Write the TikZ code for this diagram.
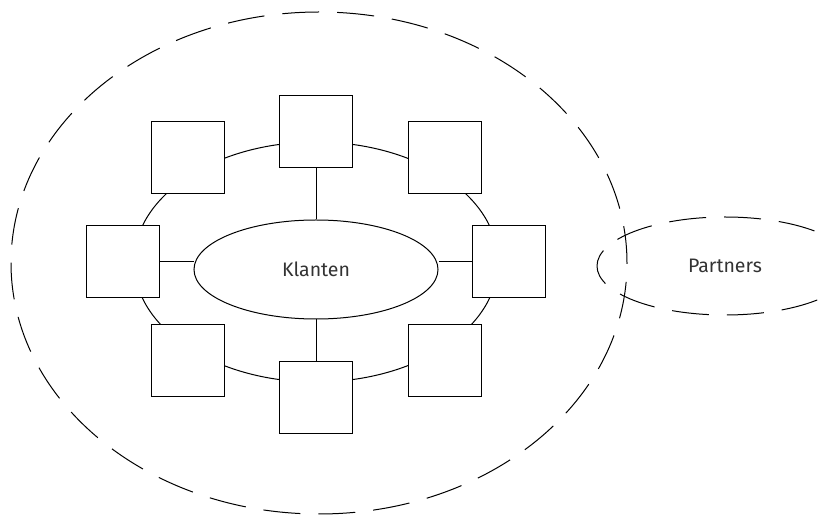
\documentclass[tikz,border=0pt]{standalone}
\usepackage{fontspec}
\setmainfont{Fira Sans}
\usetikzlibrary{shapes.geometric}
\tikzset{
  card/.style={draw, fill=white, line width=1pt, minimum width=73pt, minimum height=72pt, inner sep=0pt},
  core/.style={draw, fill=white, ellipse, line width=1pt, minimum width=244pt, minimum height=99pt, inner sep=0pt, text=black!80, font=\fontsize{19.5}{23}\selectfont},
  zone/.style={draw, ellipse, dash pattern=on 37pt off 18pt, line width=1pt, inner sep=0pt, text=black!80, font=\fontsize{19.5}{23}\selectfont},
  link/.style={line width=1pt}
}
\begin{document}
\begin{tikzpicture}[x=1pt,y=-1pt]
\useasboundingbox (0,0) rectangle (828,518);
\clip (0,0) rectangle (828,518);
% outer dashed zone
\node[zone, minimum width=616pt, minimum height=502pt] (outer) at (319,263) {};
% partners
\node[zone, minimum width=256pt, minimum height=98pt] (partners) at (725,266) {Partners};
% ring
\coordinate (ringc) at (316,262);
\draw[link] (ringc) ellipse [x radius=182pt, y radius=120pt];
% center
\node[core] (klanten) at (316,269.5) {Klanten};
% boxes
\node[card] (top) at (316,132) {};
\node[card] (tl) at (187.5,158) {};
\node[card] (tr) at (444.5,158) {};
\node[card] (left) at (123,261.5) {};
\node[card] (right) at (509,261.5) {};
\node[card] (bl) at (187.5,361) {};
\node[card] (br) at (444.5,361) {};
\node[card] (bottom) at (316,398) {};
% connectors
\draw[link] (top.south) -- (klanten.north);
\draw[link] (klanten.south) -- (bottom.north);
\draw[link] (left.east) -- (left.east -| klanten.west);
\draw[link] (right.west) -- (right.west -| klanten.east);
\end{tikzpicture}
\end{document}
